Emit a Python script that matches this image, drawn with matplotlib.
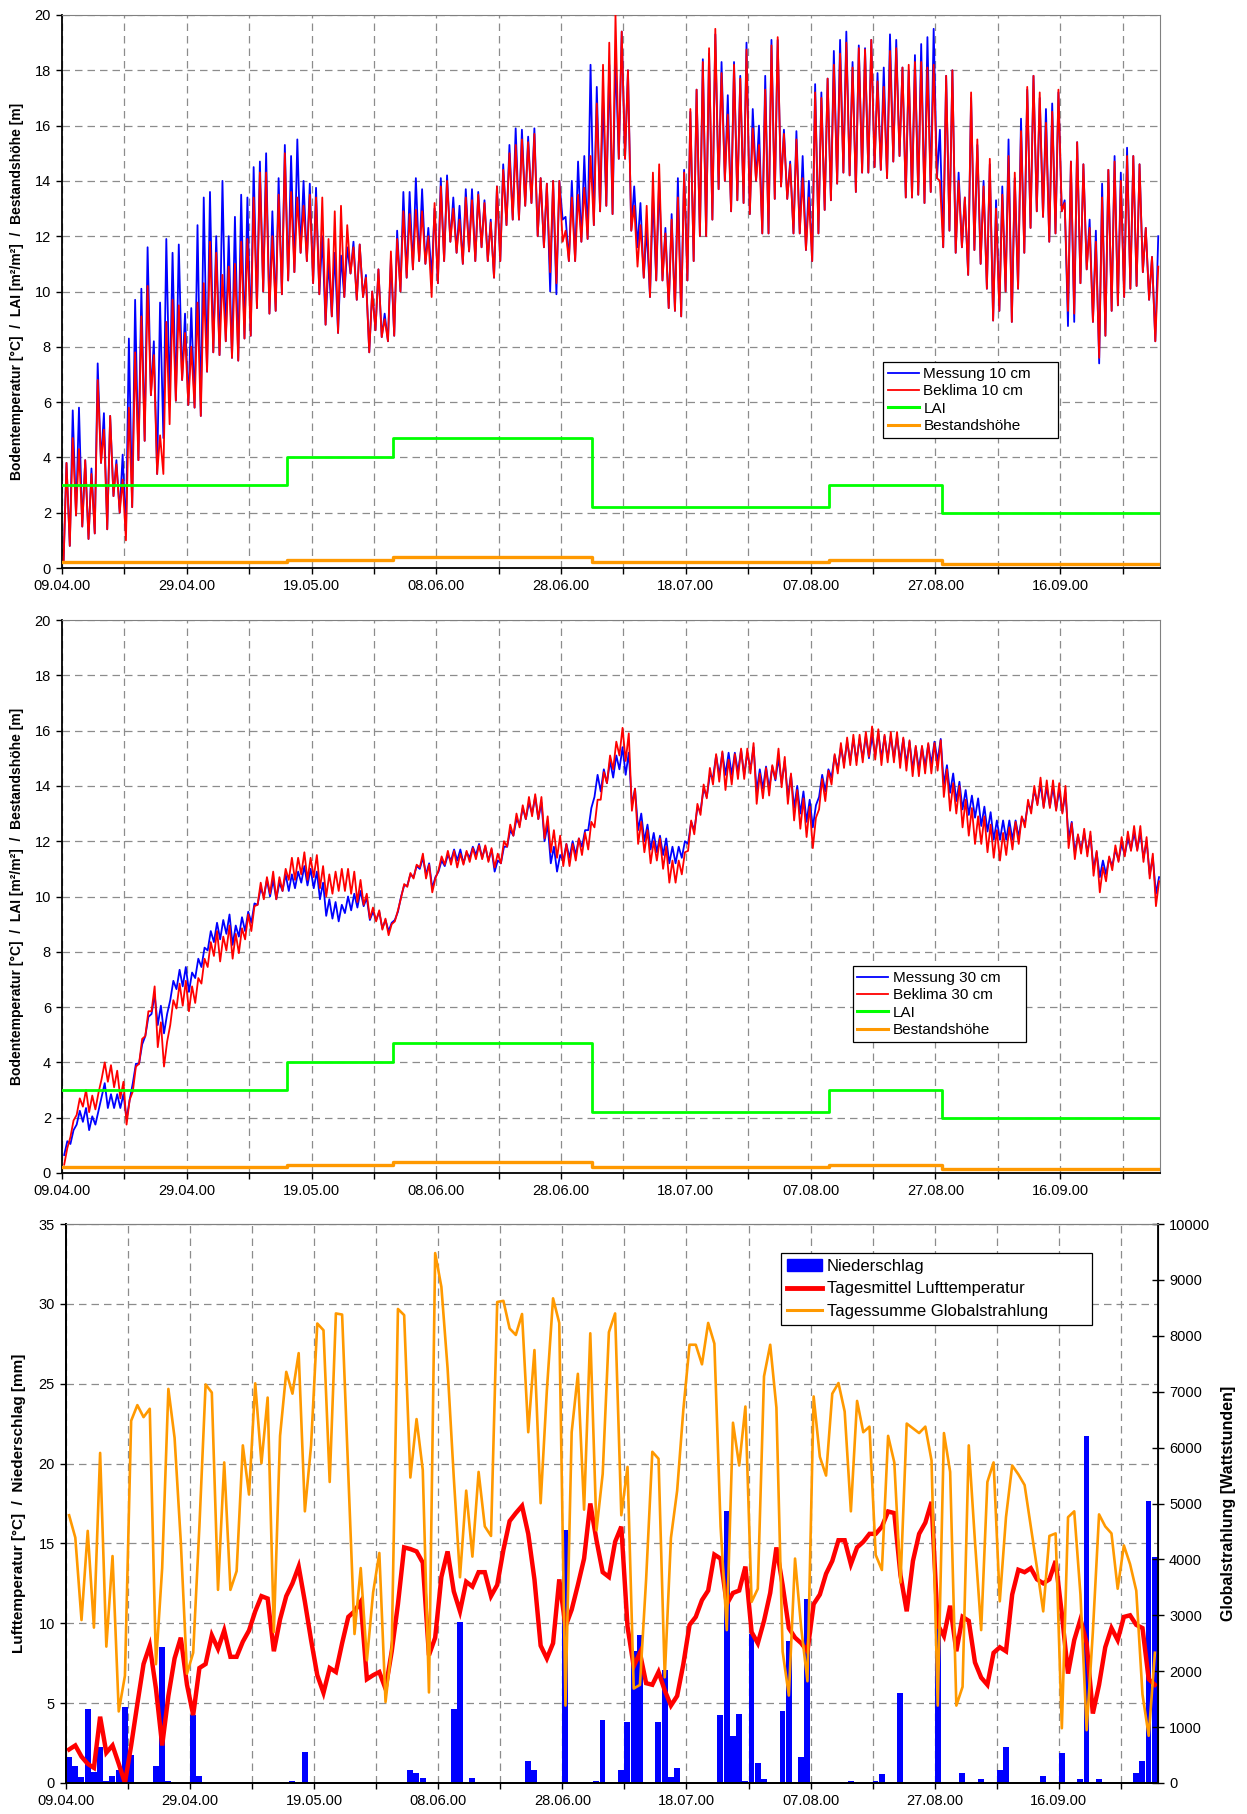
import numpy as np
import matplotlib
matplotlib.use("Agg")
import matplotlib.pyplot as plt
from matplotlib.lines import Line2D
from matplotlib.patches import Patch

plt.rcParams['font.family'] = ['Liberation Sans', 'DejaVu Sans']

# ---------------- data ----------------
date_labels = ["09.04.00", "29.04.00", "19.05.00", "08.06.00", "28.06.00",
               "18.07.00", "07.08.00", "27.08.00", "16.09.00"]
N_DAYS = 176  # 09.04.00 .. 01.10.00

# Panel 1: 10 cm soil temperature, daily max / min
max10_b = [3.8, 5.7, 5.8, 3.9, 3.6, 7.4, 5.6, 5.5, 3.9, 4.1,
           8.3, 9.7, 10.1, 11.6, 8.2, 9.6, 11.9, 11.4, 11.7, 9.2,
           9.4, 12.4, 13.4, 13.6, 12.0, 14.0, 12.0, 12.7, 13.5, 13.4,
           14.5, 14.7, 15.0, 12.9, 14.1, 15.3, 14.9, 15.5, 14.0, 13.9,
           13.75, 12.0, 11.1, 11.4, 11.3, 11.6, 11.8, 11.7, 10.6, 10.0,
           10.8, 9.2, 11.2, 12.2, 13.6, 13.6, 14.1, 13.7, 12.3, 13.0,
           14.1, 14.2, 13.4, 13.1, 13.7, 13.7, 13.6, 13.3, 12.6, 13.8,
           14.6, 15.3, 15.9, 15.85, 15.6, 15.9, 14.1, 13.9, 14.0, 14.0,
           12.7, 14.0, 14.7, 14.9, 18.2, 17.4, 17.0, 18.2, 18.5, 19.4,
           18.0, 13.8, 13.2, 12.3, 13.5, 14.0, 12.3, 12.8, 14.1, 14.4,
           16.5, 17.3, 18.4, 18.6, 19.3, 18.3, 17.1, 18.3, 17.8, 19.0,
           16.6, 16.0, 17.8, 19.1, 19.1, 15.85, 14.7, 15.8, 14.9, 14.0,
           17.5, 17.2, 17.7, 18.7, 19.1, 19.4, 18.3, 18.9, 18.8, 19.1,
           17.9, 18.1, 19.3, 19.1, 18.1, 18.0, 18.55, 18.95, 19.2, 19.5,
           15.85, 17.8, 18.0, 14.3, 13.4, 17.0, 15.3, 14.0, 14.6, 13.3,
           13.8, 15.5, 14.1, 16.25, 17.3, 17.8, 17.0, 16.6, 16.8, 17.2,
           13.3, 14.7, 15.4, 14.6, 12.6, 12.2, 13.9, 14.4, 14.9, 14.3,
           15.2, 14.9, 14.6, 12.3, 11.25, 12.0]
max10_r = [3.8, 4.7, 4.3, 3.9, 3.4, 6.8, 5.0, 5.5, 3.75, 3.2,
           5.8, 7.8, 9.1, 10.2, 7.7, 4.8, 8.9, 9.7, 9.5, 8.5,
           8.0, 9.6, 10.3, 11.8, 11.4, 10.6, 10.9, 11.0, 11.8, 11.9,
           13.4, 14.3, 14.3, 12.0, 13.5, 15.0, 13.6, 13.4, 13.1, 13.5,
           13.4, 13.4, 11.9, 12.9, 13.1, 12.4, 11.6, 11.7, 10.5, 10.0,
           10.8, 9.0, 11.45, 11.9, 12.9, 12.8, 12.95, 12.9, 12.0, 13.2,
           13.8, 14.0, 13.0, 12.6, 13.4, 13.3, 13.5, 13.2, 12.5, 13.8,
           14.4, 15.0, 15.3, 15.5, 15.4, 15.7, 14.1, 13.9, 14.0, 14.0,
           12.2, 13.4, 13.5, 13.75, 14.9, 16.8, 18.2, 19.0, 20.0, 19.4,
           18.0, 13.1, 12.4, 13.1, 14.3, 14.6, 12.1, 12.6, 13.4, 14.3,
           16.6, 17.3, 18.3, 18.8, 19.5, 17.9, 16.4, 18.2, 17.7, 18.75,
           15.9, 15.3, 17.3, 18.9, 19.2, 15.7, 14.6, 15.5, 14.1, 13.4,
           17.2, 17.0, 17.7, 18.2, 18.6, 19.0, 18.1, 18.8, 18.75, 19.1,
           17.6, 17.4, 18.7, 18.8, 18.1, 18.2, 18.3, 18.3, 18.1, 18.2,
           14.0, 17.8, 18.0, 14.0, 13.4, 17.2, 15.5, 13.8, 14.8, 13.0,
           13.5, 14.9, 14.3, 15.8, 17.4, 17.8, 17.2, 16.1, 16.5, 17.3,
           13.2, 14.7, 15.4, 14.6, 12.3, 11.8, 13.4, 14.4, 14.7, 14.0,
           14.9, 14.9, 14.6, 12.3, 11.25, 10.9]
min10_b = [0.2, 0.8, 1.9, 1.5, 1.05, 1.25, 3.8, 1.4, 2.6, 2.0,
           1.25, 2.2, 3.9, 4.6, 6.25, 3.4, 4.7, 6.05, 6.05, 6.8,
           5.9, 5.8, 5.5, 7.1, 7.8, 7.7, 8.2, 7.6, 7.5, 8.3,
           8.4, 9.4, 10.0, 9.2, 9.3, 9.9, 10.4, 10.7, 11.4, 11.1,
           10.3, 9.9, 8.8, 9.1, 8.5, 9.8, 10.65, 9.7, 9.8, 7.8,
           8.6, 8.35, 8.2, 8.4, 10.0, 10.5, 10.8, 11.1, 11.0, 10.5,
           10.3, 11.1, 11.8, 11.4, 11.0, 11.45, 11.1, 11.6, 11.1, 10.5,
           11.1, 12.4, 12.6, 12.6, 13.1, 13.2, 12.0, 11.6, 10.0, 9.9,
           12.6, 11.1, 11.1, 11.8, 11.9, 12.4, 12.9, 13.1, 12.8, 14.8,
           14.8, 12.2, 11.6, 10.5, 9.8, 10.4, 10.4, 9.4, 9.3, 9.1,
           10.4, 11.1, 12.0, 12.0, 12.6, 13.7, 14.0, 12.9, 13.3, 13.2,
           12.8, 14.0, 12.1, 12.1, 13.35, 13.8, 13.35, 12.1, 12.1, 11.5,
           11.1, 12.1, 12.95, 13.3, 13.9, 14.3, 14.2, 13.6, 14.3, 14.3,
           14.5, 14.4, 14.1, 14.7, 14.9, 13.4, 13.4, 13.5, 13.2, 13.6,
           14.1, 11.6, 12.2, 11.4, 11.6, 10.6, 11.5, 11.0, 10.1, 8.95,
           9.3, 10.0, 8.9, 10.1, 11.4, 12.3, 12.9, 12.7, 11.8, 12.1,
           12.9, 8.75, 8.9, 10.3, 10.8, 8.9, 7.4, 8.4, 9.3, 9.5,
           9.8, 10.1, 10.2, 10.7, 9.7, 8.2]
min10_r = [0.2, 0.8, 1.9, 1.5, 1.05, 1.25, 3.8, 1.4, 2.6, 2.0,
           1.0, 2.2, 3.9, 4.6, 6.25, 3.4, 3.4, 5.2, 6.05, 6.8,
           5.9, 5.8, 5.5, 7.1, 7.8, 7.7, 8.2, 7.6, 7.5, 8.3,
           8.4, 9.4, 10.0, 9.2, 9.3, 9.9, 10.4, 10.7, 11.4, 11.1,
           10.3, 9.9, 8.8, 9.1, 8.5, 9.8, 10.65, 9.7, 9.8, 7.8,
           8.6, 8.35, 8.2, 8.4, 10.0, 10.5, 10.8, 11.1, 11.0, 9.8,
           10.3, 11.1, 11.8, 11.4, 11.0, 11.45, 11.1, 11.6, 11.1, 10.5,
           11.1, 12.4, 12.6, 12.6, 13.1, 13.2, 12.0, 11.6, 10.7, 10.3,
           11.8, 11.1, 11.1, 11.8, 11.9, 12.4, 12.9, 13.1, 12.8, 14.8,
           14.8, 12.2, 10.9, 10.5, 9.8, 10.4, 10.4, 9.4, 9.3, 9.1,
           10.4, 11.1, 12.0, 12.0, 12.6, 13.7, 14.0, 12.9, 13.3, 13.2,
           12.8, 14.0, 12.1, 12.1, 13.35, 13.8, 13.35, 12.1, 12.1, 11.5,
           11.1, 12.1, 12.95, 13.3, 13.9, 14.3, 14.2, 13.6, 14.3, 14.3,
           14.5, 14.4, 14.1, 14.7, 14.9, 13.4, 13.4, 13.5, 13.2, 13.6,
           14.1, 11.6, 12.2, 11.4, 11.6, 10.6, 11.5, 11.0, 10.1, 8.95,
           9.3, 10.0, 8.9, 10.1, 11.4, 12.3, 12.9, 12.7, 11.8, 12.1,
           12.9, 9.3, 9.2, 10.3, 10.8, 8.9, 7.6, 8.4, 9.3, 9.5,
           9.8, 10.1, 10.2, 10.7, 9.7, 8.2]

# Panel 2: 30 cm soil temperature, daily mean and half daily range
m30_b = [0.9, 1.3, 2.0, 2.1, 1.8, 2.0, 3.0, 2.6, 2.6, 2.6,
         2.3, 3.6, 4.3, 5.3, 6.1, 5.7, 5.4, 6.6, 7.0, 7.1,
         6.9, 7.4, 7.8, 8.4, 8.7, 8.8, 9.0, 8.6, 8.9, 9.1,
         9.4, 10.0, 10.3, 10.3, 10.2, 10.5, 10.5, 10.6, 10.8, 10.7,
         10.6, 10.2, 9.6, 9.5, 9.4, 9.7, 9.8, 9.9, 9.8, 9.3,
         9.3, 9.0, 8.9, 9.3, 10.2, 10.6, 10.9, 11.2, 11.0, 10.5,
         11.1, 11.3, 11.5, 11.5, 11.4, 11.6, 11.7, 11.6, 11.5, 11.1,
         11.5, 12.1, 12.5, 12.9, 13.1, 13.3, 13.1, 12.3, 11.5, 11.2,
         11.6, 11.7, 11.8, 12.1, 12.8, 14.0, 14.2, 14.5, 14.7, 15.0,
         14.8, 13.6, 12.7, 12.3, 12.0, 11.9, 11.8, 11.5, 11.5, 11.7,
         12.3, 12.8, 13.5, 14.0, 14.7, 14.8, 14.8, 14.8, 14.9, 14.8,
         15.0, 14.2, 14.3, 14.3, 14.6, 14.5, 14.0, 13.6, 13.4, 13.1,
         12.9, 14.0, 14.2, 14.7, 15.0, 15.2, 15.3, 15.3, 15.4, 15.4,
         15.5, 15.4, 15.4, 15.4, 15.3, 15.2, 15.0, 15.0, 15.1, 15.2,
         15.3, 14.4, 14.1, 13.8, 13.5, 13.3, 13.2, 12.9, 12.7, 12.4,
         12.4, 12.4, 12.4, 12.5, 13.0, 13.5, 13.7, 13.6, 13.6, 13.5,
         13.4, 12.4, 11.9, 12.0, 11.9, 11.3, 11.0, 11.1, 11.4, 11.6,
         11.8, 12.0, 12.0, 11.7, 11.1, 10.4]
m30_r = [0.6, 1.6, 2.4, 2.7, 2.5, 2.6, 3.7, 3.6, 3.4, 3.0,
         2.2, 3.4, 4.4, 5.4, 6.3, 5.0, 4.3, 5.8, 6.4, 6.5,
         6.3, 6.6, 7.3, 7.9, 8.3, 8.1, 8.5, 8.2, 8.4, 8.9,
         9.2, 10.1, 10.3, 10.5, 10.3, 10.6, 11.0, 11.0, 11.2, 11.0,
         11.1, 10.7, 10.4, 10.5, 10.6, 10.6, 10.5, 10.2, 9.9, 9.4,
         9.3, 9.0, 8.8, 9.3, 10.2, 10.6, 10.9, 11.3, 10.9, 10.4,
         11.2, 11.4, 11.4, 11.3, 11.4, 11.5, 11.6, 11.6, 11.5, 11.3,
         11.6, 12.2, 12.6, 12.9, 13.2, 13.3, 13.2, 12.5, 12.0, 11.8,
         11.5, 11.5, 11.7, 11.9, 12.2, 13.0, 14.0, 14.6, 15.1, 15.6,
         15.4, 13.5, 12.3, 12.0, 11.6, 11.7, 11.4, 10.9, 10.9, 11.2,
         12.2, 12.8, 13.5, 14.1, 14.6, 14.7, 14.4, 14.6, 14.8, 14.8,
         15.0, 13.9, 14.1, 14.2, 14.8, 14.5, 13.9, 13.3, 13.0, 12.7,
         12.3, 13.7, 14.0, 14.6, 15.0, 15.2, 15.3, 15.3, 15.4, 15.6,
         15.5, 15.3, 15.4, 15.4, 15.2, 15.1, 14.9, 14.9, 15.0, 15.0,
         15.1, 14.1, 13.6, 13.5, 13.0, 12.7, 12.4, 12.4, 12.1, 11.9,
         11.8, 12.0, 12.2, 12.4, 13.0, 13.5, 13.8, 13.7, 13.7, 13.6,
         13.5, 12.2, 11.8, 12.0, 11.9, 11.2, 10.6, 11.0, 11.4, 11.7,
         11.9, 12.1, 12.1, 11.7, 11.1, 10.1]
h30_b = np.repeat([0.25, 0.35, 0.3, 0.15, 0.2, 0.3, 0.4, 0.3, 0.4, 0.35, 0.3],
                  [10, 21, 17, 6, 16, 14, 7, 9, 41, 20, 15])
h30_r = np.repeat([0.3, 0.45, 0.4, 0.2, 0.25, 0.4, 0.5, 0.4, 0.55, 0.5, 0.45],
                  [10, 21, 17, 6, 16, 14, 7, 9, 41, 20, 15])

# LAI and stand height (step functions)
step_days = [0, 36, 53, 85, 123, 141, 176]
lai_vals = [3.0, 4.0, 4.7, 2.2, 3.0, 2.0]
height_vals = [0.2, 0.3, 0.4, 0.2, 0.3, 0.15]

# Panel 3: precipitation (mm), daily mean air temperature, daily global radiation
rain_days = [0, 1, 2, 3, 4, 5, 6, 7, 8, 9, 10, 14, 15, 16, 20, 21, 36, 38, 55, 56,
             57, 62, 63, 65, 74, 75, 80, 85, 86, 89, 90, 91, 92, 95, 96, 97, 98, 105,
             106, 107, 108, 109, 110, 111, 112, 115, 116, 118, 119, 126, 130, 131, 134,
             140, 144, 147, 150, 151, 157, 160, 163, 164, 166, 172, 173, 174, 175]
rain_mm = [1.65, 1.05, 0.35, 4.65, 0.7, 2.25, 0.15, 0.45, 0.8, 4.75, 1.75, 1.05, 8.5,
           0.15, 4.25, 0.45, 0.15, 1.95, 0.8, 0.6, 0.3, 4.65, 10.1, 0.3, 1.35, 0.8,
           15.85, 0.15, 3.95, 0.8, 3.85, 8.25, 9.25, 3.85, 7.1, 0.35, 0.95, 4.25,
           17.05, 2.95, 4.35, 0.15, 9.35, 1.25, 0.25, 4.5, 8.9, 1.6, 11.55, 0.15,
           0.15, 0.55, 5.65, 10.25, 0.6, 0.25, 0.8, 2.25, 0.45, 1.85, 0.25, 21.7,
           0.25, 0.65, 1.35, 17.65, 14.15]
air_t = [2.1, 2.35, 1.65, 1.2, 0.95, 4.15, 1.9, 2.35, 1.2, 0.0,
         2.35, 4.95, 7.45, 8.6, 5.9, 2.35, 5.45, 7.8, 9.1, 6.15,
         4.25, 7.2, 7.45, 9.25, 8.4, 9.55, 7.9, 7.9, 8.85, 9.55,
         10.75, 11.7, 11.55, 8.25, 10.25, 11.7, 12.5, 13.55, 11.35, 8.95,
         6.75, 5.65, 7.2, 6.95, 8.75, 10.4, 10.75, 11.35, 6.5, 6.75,
         6.95, 5.9, 8.25, 11.2, 14.75, 14.65, 14.5, 13.8, 8.0, 9.1,
         12.9, 14.5, 12.0, 10.75, 12.6, 12.3, 13.2, 13.2, 11.7, 12.4,
         14.6, 16.4, 16.9, 17.35, 15.6, 12.75, 8.6, 7.8, 8.75, 12.75,
         9.8, 10.85, 12.4, 14.05, 17.5, 15.2, 13.2, 12.9, 15.1, 16.05,
         9.8, 7.3, 8.15, 6.25, 6.15, 6.95, 5.8, 4.85, 5.45, 7.45,
         9.9, 10.4, 11.45, 12.05, 14.3, 14.05, 11.2, 11.9, 12.05, 13.55,
         9.45, 8.75, 10.15, 11.9, 14.75, 12.4, 9.7, 9.1, 8.75, 8.25,
         11.2, 11.8, 13.1, 13.9, 15.2, 15.2, 13.7, 14.75, 15.1, 15.6,
         15.6, 16.05, 17.0, 16.9, 13.0, 10.75, 13.9, 15.6, 16.3, 17.6,
         9.9, 9.2, 11.1, 8.25, 10.4, 10.15, 7.55, 6.6, 6.15, 8.15,
         8.5, 8.25, 11.8, 13.35, 13.2, 13.45, 12.75, 12.5, 12.75, 13.9,
         10.6, 6.85, 8.95, 10.25, 8.75, 4.35, 6.15, 8.5, 9.7, 8.95,
         10.4, 10.5, 9.9, 9.7, 6.5, 6.15]
glob_wh = [4790, 4390, 2915, 4510, 2780, 5905, 2440, 4060, 1280, 1920,
           6480, 6760, 6545, 6695, 2125, 3845, 7050, 6175, 4320, 1955,
           2330, 4590, 7130, 6985, 3455, 5735, 3455, 3790, 6040, 5160,
           7150, 5720, 6895, 2700, 6210, 7355, 6965, 7690, 4860, 6040,
           8220, 8100, 5385, 8400, 8380, 5530, 2665, 3845, 2195, 3410,
           4115, 1450, 2430, 8480, 8370, 5465, 6510, 5600, 1620, 9480,
           8875, 7420, 5465, 3680, 5230, 4050, 5565, 4590, 4420, 8605,
           8625, 8130, 8015, 8390, 6275, 7745, 5005, 7020, 8670, 8230,
           1385, 6275, 7320, 4890, 8045, 4520, 5530, 8065, 8400, 4790,
           5655, 1690, 1755, 3645, 5925, 5800, 1890, 4385, 5230, 6680,
           7840, 7840, 7490, 8230, 7860, 4590, 2735, 6445, 5680, 6735,
           3240, 3475, 7275, 7840, 6715, 2350, 1565, 4015, 2765, 1820,
           6915, 5835, 5500, 6965, 7155, 6645, 4860, 6835, 6275, 6375,
           4080, 3810, 6210, 5735, 3590, 6430, 6345, 6260, 6375, 5770,
           1385, 6260, 5565, 1385, 1720, 6040, 4320, 2735, 5385, 5735,
           3250, 4755, 5680, 5520, 5330, 4590, 3845, 3070, 4420, 4465,
           980, 4755, 4860, 3375, 945, 2700, 4805, 4590, 4465, 3475,
           4250, 3915, 3440, 1585, 845, 2330]

for name, arr in [("max10_b", max10_b), ("max10_r", max10_r), ("min10_b", min10_b),
                  ("min10_r", min10_r), ("m30_b", m30_b), ("m30_r", m30_r),
                  ("air_t", air_t), ("glob_wh", glob_wh)]:
    assert len(arr) == N_DAYS, (name, len(arr))
assert len(rain_days) == len(rain_mm)

# ---------------- figure ----------------
W, H = 1247, 1814
fig = plt.figure(figsize=(W / 100, H / 100), dpi=100)


def add_axes(l, t, r, b):
    return fig.add_axes([l / W, 1 - b / H, (r - l) / W, (b - t) / H])


days = np.arange(N_DAYS)
GRID = dict(color='#8c8c8c', linestyle=(0, (6, 4)), linewidth=0.9)
BLUE, RED, GREEN, ORANGE = '#0000ff', '#ff0000', '#00ff00', '#ff9900'
TICK_FS = 10.5


def zigzag(lo, hi, t_lo, t_hi):
    t = np.column_stack([days + t_lo, days + t_hi]).ravel()
    y = np.column_stack([np.asarray(lo, float), np.asarray(hi, float)]).ravel()
    return t, y


def style(ax, ymax, ystep, right_gray=True):
    ax.set_xlim(0, N_DAYS)
    ax.set_ylim(0, ymax)
    ax.set_yticks(np.arange(0, ymax + 0.001, ystep))
    xt = np.arange(0, N_DAYS, 10)
    ax.set_xticks(xt)
    labs = [date_labels[i // 2] if i % 2 == 0 else '' for i in range(len(xt))]
    ax.set_xticklabels(labs)
    ax.grid(True, **GRID)
    ax.set_axisbelow(True)
    ax.spines['top'].set_color('#808080')
    if right_gray:
        ax.spines['right'].set_color('#808080')
    for s in ['left', 'bottom']:
        ax.spines[s].set_linewidth(1.3)
        ax.spines[s].set_color('black')
    ax.tick_params(direction='out', length=4, width=1, labelsize=TICK_FS, pad=4)


def steps(ax, vals, color, lw):
    ax.plot(step_days, list(vals) + [vals[-1]], drawstyle='steps-post',
            color=color, lw=lw, zorder=4)


ylab_soil = "Bodentemperatur [°C]  /  LAI [m²/m²]  /  Bestandshöhe [m]"

for (top, bottom, lo_b, hi_b, lo_r, hi_r, tl, th, lab_b, lab_r, legpos) in [
        (15, 568, min10_b, max10_b, min10_r, max10_r, 0.25, 0.72,
         "Messung 10 cm", "Beklima 10 cm", (0.748, 0.2297, 0.159, 0.1428)),
        (620, 1173,
         np.array(m30_b) - h30_b, np.array(m30_b) + h30_b,
         np.array(m30_r) - h30_r, np.array(m30_r) + h30_r, 0.35, 0.85,
         "Messung 30 cm", "Beklima 30 cm", (0.720, 0.224, 0.158, 0.150))]:
    ax = add_axes(62, top, 1160, bottom)
    style(ax, 20, 2)
    tb, yb = zigzag(lo_b, hi_b, tl, th)
    tr, yr = zigzag(lo_r, hi_r, tl, th)
    ax.plot(tb, yb, color=BLUE, lw=1.3, zorder=2)
    ax.plot(tr, yr, color=RED, lw=1.3, zorder=3)
    steps(ax, lai_vals, GREEN, 2.0)
    steps(ax, height_vals, ORANGE, 2.4)
    ax.set_ylabel(ylab_soil, fontsize=10, fontweight='bold')
    ax.yaxis.set_label_coords(-0.035, 0.5)
    handles = [Line2D([], [], color=BLUE, lw=1.3), Line2D([], [], color=RED, lw=1.3),
               Line2D([], [], color=GREEN, lw=2.2), Line2D([], [], color=ORANGE, lw=2.2)]
    leg = ax.legend(handles, [lab_b, lab_r, "LAI", "Bestandshöhe"],
                    loc='upper left', bbox_to_anchor=legpos, mode='expand',
                    borderaxespad=0, fontsize=11, frameon=True, fancybox=False,
                    edgecolor='black', framealpha=1, handlelength=2.0,
                    handletextpad=0.3, labelspacing=0.22, borderpad=0.32)
    leg.get_frame().set_linewidth(0.9)
    leg.set_zorder(10)

# Panel 3
ax3 = add_axes(66, 1224, 1158, 1783)
style(ax3, 35, 5, right_gray=False)
ax3.bar(rain_days, rain_mm, width=0.95, align='edge', color=BLUE, zorder=2)
ax3.plot(days + 0.5, air_t, color=RED, lw=3.2, zorder=3, solid_joinstyle='miter')
ax3.set_ylabel("Lufttemperatur [°C]  /  Niederschlag [mm]", fontsize=11,
               fontweight='bold')
ax3.yaxis.set_label_coords(-0.037, 0.5)

ax3b = ax3.twinx()
ax3b.set_ylim(0, 10000)
ax3b.set_yticks(np.arange(0, 10001, 1000))
ax3b.plot(days + 0.5, glob_wh, color=ORANGE, lw=1.9, zorder=3)
ax3b.tick_params(direction='inout', length=8, width=1, labelsize=TICK_FS, pad=4)
ax3b.spines['right'].set_linewidth(1.3)
ax3b.spines['top'].set_color('#808080')
ax3b.spines['left'].set_linewidth(1.3)
ax3b.spines['bottom'].set_linewidth(1.3)
ax3b.set_ylabel("Globalstrahlung [Wattstunden]", fontsize=11.5, fontweight='bold')
ax3b.yaxis.set_label_coords(1.058, 0.5)

handles3 = [Patch(facecolor=BLUE, edgecolor=BLUE),
            Line2D([], [], color=RED, lw=3.5),
            Line2D([], [], color=ORANGE, lw=2.2)]
leg3 = ax3b.legend(handles3, ["Niederschlag", "Tagesmittel Lufttemperatur",
                              "Tagessumme Globalstrahlung"],
                   loc='upper left', bbox_to_anchor=(0.655, 0.816, 0.285, 0.132),
                   mode='expand', borderaxespad=0, fontsize=12, frameon=True,
                   fancybox=False, edgecolor='black', framealpha=1,
                   handlelength=2.1, handletextpad=0.3, labelspacing=0.45,
                   borderpad=0.35)
leg3.get_frame().set_linewidth(0.9)

fig.savefig("out.png", dpi=100)
